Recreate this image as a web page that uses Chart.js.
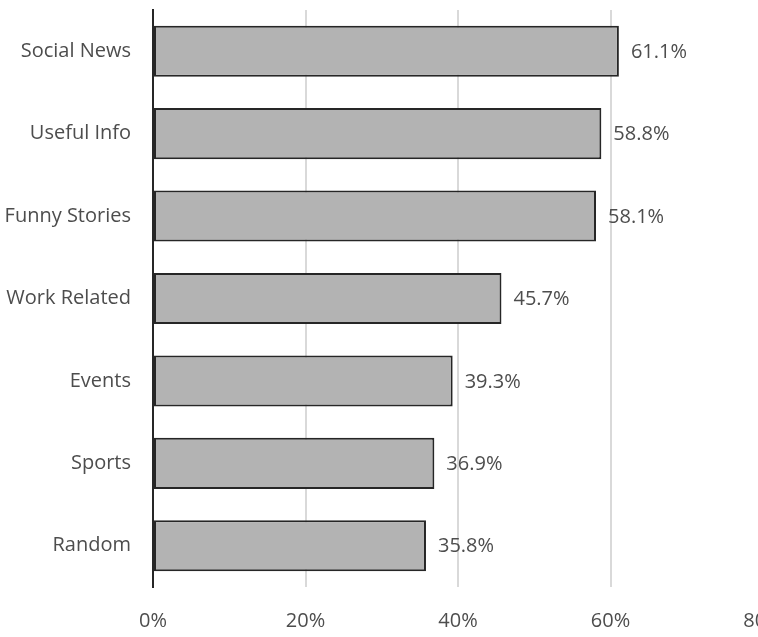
<!DOCTYPE html>
<html>
<head>
<meta charset="utf-8">
<script src="https://cdn.jsdelivr.net/npm/chart.js@4"></script>
<style>
    html, body { margin: 0; padding: 0; background: #fff; overflow: hidden; }
    #wrap { width: 790px; height: 637px; }
</style>
</head>
<body>
<div id="wrap"><canvas id="shareChart" width="790" height="637"></canvas></div>
<script>
const categories = ["Social News", "Useful Info", "Funny Stories", "Work Related", "Events", "Sports", "Random"];
const shares = [61.1, 58.8, 58.1, 45.7, 39.3, 36.9, 35.8];
const xTicks = [0, 20, 40, 60, 80];

const FONT = "'Open Sans', 'Noto Sans', sans-serif";
const TEXT_COLOR = "#4d4d4d";

// value labels to the right of each bar
const valueLabels = {
    id: "valueLabels",
    afterDatasetsDraw(chart) {
        const ctx = chart.ctx;
        const meta = chart.getDatasetMeta(0);
        ctx.save();
        ctx.font = "20px " + FONT;
        ctx.fillStyle = TEXT_COLOR;
        ctx.textAlign = "left";
        ctx.textBaseline = "middle";
        meta.data.forEach((bar, i) => {
            ctx.fillText(shares[i].toFixed(1) + "%", bar.x + 12, bar.y + 1);
        });
        ctx.restore();
    }
};

const ctx = document.getElementById("shareChart").getContext("2d");
new Chart(ctx, {
    type: "bar",
    data: {
        labels: categories,
        datasets: [{
            data: shares,
            backgroundColor: "#b3b3b3",
            borderColor: "#262626",
            borderWidth: 2,
            borderSkipped: false,
            categoryPercentage: 1,
            barPercentage: 0.62
        }]
    },
    options: {
        indexAxis: "y",
        responsive: false,
        animation: false,
        layout: { padding: { top: 10, right: 27, left: 0, bottom: 0 } },
        plugins: {
            legend: { display: false },
            tooltip: { enabled: false }
        },
        scales: {
            x: {
                min: 0,
                max: 80,
                afterBuildTicks(axis) {
                    axis.ticks = xTicks.map(v => ({ value: v }));
                },
                afterFit(axis) {
                    axis.height = 50;
                    axis.paddingLeft = 0;
                    axis.paddingRight = 0;
                },
                grid: { color: "#d9d9d9", lineWidth: 2, drawTicks: false },
                border: { display: false },
                ticks: {
                    padding: 22,
                    color: TEXT_COLOR,
                    font: { family: FONT, size: 20 },
                    maxRotation: 0,
                    callback: v => v + "%"
                }
            },
            y: {
                afterFit(axis) {
                    axis.width = 153;
                    axis.paddingTop = 0;
                    axis.paddingBottom = 0;
                },
                grid: { display: false, drawTicks: false },
                border: { display: true, color: "#262626", width: 2 },
                ticks: {
                    padding: 22,
                    color: TEXT_COLOR,
                    font: { family: FONT, size: 20 }
                }
            }
        }
    },
    plugins: [valueLabels]
});
</script>
</body>
</html>
